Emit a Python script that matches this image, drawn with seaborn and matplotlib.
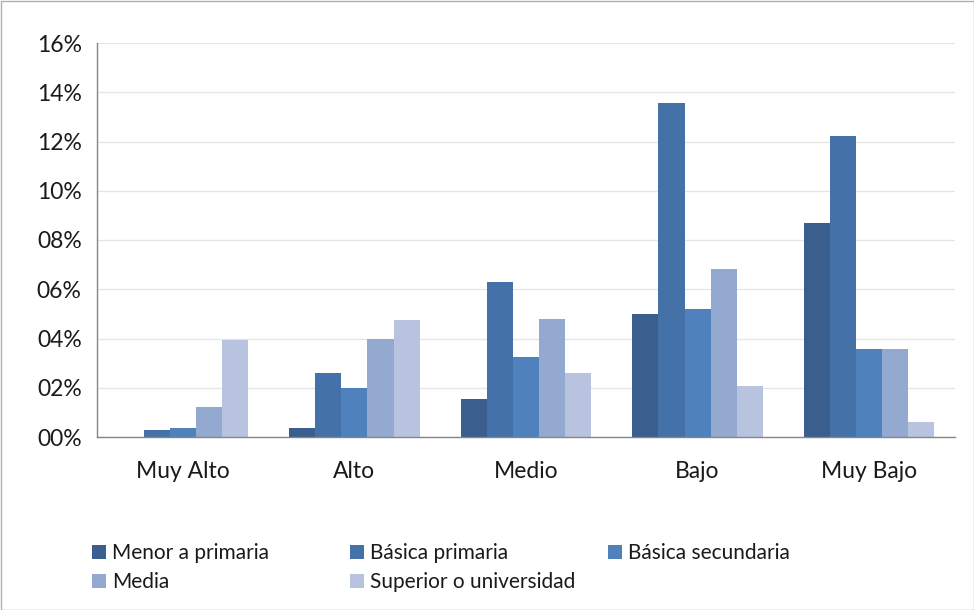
import numpy as np
import pandas as pd
import matplotlib
matplotlib.use("Agg")
import matplotlib.pyplot as plt
import seaborn as sns
from matplotlib.patches import Rectangle

categorias = ["Muy Alto", "Alto", "Medio", "Bajo", "Muy Bajo"]
series = ["Menor a primaria", "Básica primaria", "Básica secundaria",
          "Media", "Superior o universidad"]
menor_primaria = [0.0, 0.37, 1.54, 5.00, 8.68]
basica_primaria = [0.28, 2.61, 6.28, 13.55, 12.21]
basica_secundaria = [0.35, 2.00, 3.26, 5.21, 3.59]
media = [1.22, 4.00, 4.80, 6.81, 3.59]
superior = [3.94, 4.75, 2.61, 2.07, 0.61]
yticks = [0, 2, 4, 6, 8, 10, 12, 14, 16]
ytick_labels = ["00%", "02%", "04%", "06%", "08%", "10%", "12%", "14%", "16%"]

colores = ["#3A5F8E", "#4472A8", "#4F81BD", "#93A9D0", "#B8C4DF"]

valores = [menor_primaria, basica_primaria, basica_secundaria, media, superior]
rows = []
for s, vals in zip(series, valores):
    for c, v in zip(categorias, vals):
        rows.append({"Estrato": c, "Nivel": s, "Valor": v})
df = pd.DataFrame(rows)

sns.set_theme(style="white")
plt.rcParams["font.family"] = ["Lato", "DejaVu Sans"]

fig = plt.figure(figsize=(9.74, 6.10), dpi=100)
ax = fig.add_axes([97/974, 1-437/610, (955-97)/974, (437-43)/610])

sns.barplot(data=df, x="Estrato", y="Valor", hue="Nivel", order=categorias,
            hue_order=series, palette=dict(zip(series, colores)),
            width=0.76, gap=0, saturation=1, ax=ax, legend=True, linewidth=0)

ax.set_xlim(-0.5, 4.5)
ax.set_ylim(0, 16)
ax.set_yticks(yticks)
ax.set_yticklabels(ytick_labels, fontsize=16.5, color="#1a1a1a")
ax.set_xticks(range(len(categorias)))
ax.set_xticklabels(categorias, fontsize=16.5, color="#1a1a1a")
ax.set_xticks(np.arange(-0.5, 5, 1), minor=True)
ax.tick_params(axis="x", which="major", length=0, pad=17)
ax.tick_params(axis="x", which="minor", length=6, width=1, color="#868686", direction="out")
ax.tick_params(axis="y", which="major", length=5, width=1, color="#868686", direction="out", pad=6)
ax.set_xlabel("")
ax.set_ylabel("")
ax.grid(axis="y", color="#e6e6e6", linewidth=1)
ax.set_axisbelow(True)
for side in ["top", "right"]:
    ax.spines[side].set_visible(False)
for side in ["left", "bottom"]:
    ax.spines[side].set_color("#868686")
    ax.spines[side].set_linewidth(1)

handles, labels = ax.get_legend_handles_labels()
ax.get_legend().remove()
hmap = dict(zip(labels, handles))

cols = [[series[0], series[3]], [series[1], series[4]], [series[2]]]
xpos = [92/974, 350/974, 608/974]
for names, x in zip(cols, xpos):
    leg = fig.legend([hmap[n] for n in names], names, loc="upper left",
                     bbox_to_anchor=(x, 1-543/610), frameon=False, fontsize=15,
                     handlelength=0.65, handleheight=0.65, handletextpad=0.3,
                     labelspacing=0.45, borderpad=0, borderaxespad=0)
    for t in leg.get_texts():
        t.set_color("#1a1a1a")

fig.add_artist(Rectangle((0.5/974, 0.5/610), 1-1/974, 1-1/610, transform=fig.transFigure,
                         fill=False, edgecolor="#b0b0b0", linewidth=1))

fig.savefig("out.png", dpi=100)
